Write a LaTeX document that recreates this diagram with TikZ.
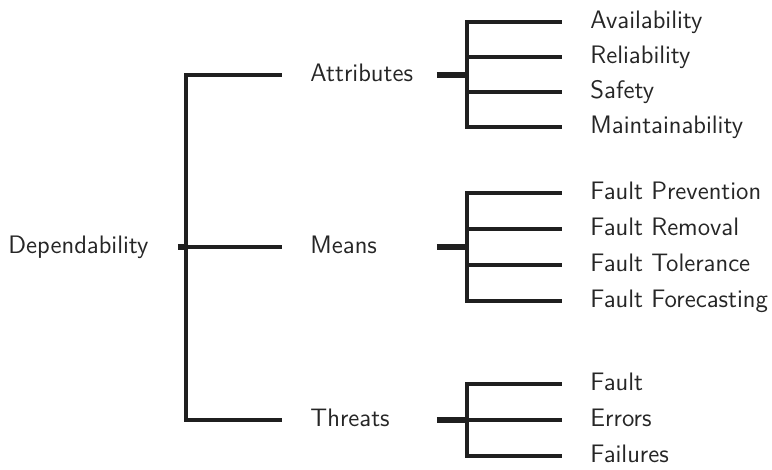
\documentclass[tikz,border=0pt]{standalone}
\usepackage{tikz}
\usetikzlibrary{positioning,calc}

\tikzset{
	leaf/.style={anchor=west, inner sep=0pt, text height=1.5ex, text depth=.25ex,
		text=black!85, font=\sffamily\fontsize{11}{13}\selectfont},
	branch/.style={line width=1.7pt, black!88},
	stub/.style={line width=2.3pt, black!88}
}

\begin{document}
\begin{tikzpicture}[x=0.0153cm,y=-0.0153cm]
	\useasboundingbox (0,0) rectangle (772,470);
	% labels
	\node[leaf] (dep) at (8,247) {Dependability};
	\node[leaf] (attr) at (310,75) {Attributes};
	\node[leaf] (means) at (310,247) {Means};
	\node[leaf] (thr) at (310,420) {Threats};
	\node[leaf] (avail) at (590,22) {Availability};
	\node[leaf] (rel) at (590,57) {Reliability};
	\node[leaf] (saf) at (590,92) {Safety};
	\node[leaf] (maint) at (590,127) {Maintainability};
	\node[leaf] (prev) at (590,193) {Fault Prevention};
	\node[leaf] (rem) at (590,229) {Fault Removal};
	\node[leaf] (tol) at (590,265) {Fault Tolerance};
	\node[leaf] (fore) at (590,301) {Fault Forecasting};
	\node[leaf] (fault) at (590,384) {Fault};
	\node[leaf] (err) at (590,420) {Errors};
	\node[leaf] (fail) at (590,456) {Failures};
	% joints
	\coordinate (d0) at (178,247);
	\coordinate (d1) at (186,247);
	\coordinate (e1) at (282,0);
	\coordinate (s2) at (437,0);
	\coordinate (j2) at (467,0);
	\coordinate (e2) at (562,0);
	% first level
	\draw[stub] (d0) -- (d1);
	\draw[branch] (e1 |- attr.west) -- (d1 |- attr.west) -- (d1 |- thr.west) -- (e1 |- thr.west);
	\draw[branch] (d1) -- (e1 |- means.west);
	% attributes
	\draw[stub] (s2 |- attr.west) -- (j2 |- attr.west);
	\draw[branch] (e2 |- avail.west) -- (j2 |- avail.west) -- (j2 |- maint.west) -- (e2 |- maint.west);
	\draw[branch] (j2 |- rel.west) -- (e2 |- rel.west);
	\draw[branch] (j2 |- saf.west) -- (e2 |- saf.west);
	% means
	\draw[stub] (s2 |- means.west) -- (j2 |- means.west);
	\draw[branch] (e2 |- prev.west) -- (j2 |- prev.west) -- (j2 |- fore.west) -- (e2 |- fore.west);
	\draw[branch] (j2 |- rem.west) -- (e2 |- rem.west);
	\draw[branch] (j2 |- tol.west) -- (e2 |- tol.west);
	% threats
	\draw[stub] (s2 |- thr.west) -- (j2 |- thr.west);
	\draw[branch] (e2 |- fault.west) -- (j2 |- fault.west) -- (j2 |- fail.west) -- (e2 |- fail.west);
	\draw[branch] (j2 |- err.west) -- (e2 |- err.west);
\end{tikzpicture}
\end{document}
